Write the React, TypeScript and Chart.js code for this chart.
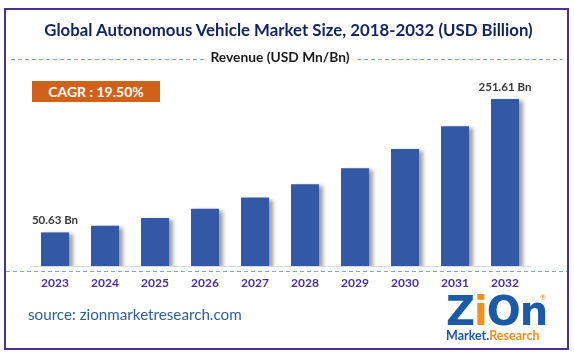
import React, { useEffect, useRef } from "react";
import { Chart, registerables } from "chart.js";

Chart.register(...registerables);

const years = ["2023", "2024", "2025", "2026", "2027", "2028", "2029", "2030", "2031", "2032"];
const revenue = [50.63, 60.5, 72.3, 86.4, 103.2, 123.4, 147.4, 176.2, 210.5, 251.61];
const labelled = [0, 9];
const titleText = "Global Autonomous Vehicle Market Size, 2018-2032 (USD Billion)";
const subtitleText = "Revenue (USD Mn/Bn)";
const cagrText = "CAGR : 19.50%";
const sourceText = "source: zionmarketresearch.com";

const FONT = "Lato, 'Noto Sans', sans-serif";

export default function App() {
  const ref = useRef<HTMLCanvasElement | null>(null);

  useEffect(() => {
    document.body.style.margin = "0";
    const canvas = ref.current;
    if (!canvas) return;

    const shadowPlugin = {
      id: "barShadow",
      beforeDatasetsDraw(chart: any) {
        const ctx = chart.ctx;
        ctx.save();
        ctx.shadowColor = "rgba(0,0,0,0.38)";
        ctx.shadowOffsetX = 4;
        ctx.shadowOffsetY = 2;
        ctx.shadowBlur = 4;
      },
      afterDatasetsDraw(chart: any) {
        chart.ctx.restore();
      },
    };

    const decoPlugin = {
      id: "deco",
      afterDraw(chart: any) {
        const ctx = chart.ctx;
        ctx.save();
        ctx.strokeStyle = "#7fa6db";
        ctx.lineWidth = 1;
        ctx.setLineDash([4, 3]);
        ctx.beginPath();
        ctx.moveTo(6, 271.5);
        ctx.lineTo(567, 271.5);
        ctx.stroke();
        ctx.beginPath();
        ctx.moveTo(11, 59.5);
        ctx.lineTo(204, 59.5);
        ctx.moveTo(357, 59.5);
        ctx.lineTo(563, 59.5);
        ctx.stroke();
        ctx.setLineDash([]);
        const meta = chart.getDatasetMeta(0);
        ctx.fillStyle = "#3a3a3a";
        ctx.font = `bold 11.5px ${FONT}`;
        ctx.textAlign = "center";
        ctx.textBaseline = "bottom";
        labelled.forEach((i) => {
          const el = meta.data[i];
          ctx.fillText(`${revenue[i].toFixed(2)} Bn`, el.x, el.y - 6);
        });
        ctx.restore();
      },
    };

    const chart = new Chart(canvas, {
      type: "bar",
      data: {
        labels: years,
        datasets: [
          {
            data: revenue,
            backgroundColor: "#3358a5",
            borderWidth: 0,
            categoryPercentage: 1,
            barPercentage: 0.56,
          },
        ],
      },
      options: {
        animation: false,
        responsive: false,
        maintainAspectRatio: false,
        devicePixelRatio: 1,
        layout: { padding: { left: 30, right: 44, top: 67, bottom: 61 } },
        plugins: { legend: { display: false }, tooltip: { enabled: false }, title: { display: false } },
        scales: {
          x: {
            grid: { display: false, drawTicks: false },
            border: { display: true, color: "#d9d9d9", width: 1 },
            ticks: {
              color: "#4a2f96",
              font: { family: FONT, weight: "bold", size: 12 },
              padding: 10,
            },
            afterFit: (scale: any) => {
              scale.height = 30;
            },
          },
          y: { display: false, min: 0, max: 300 },
        },
      },
      plugins: [shadowPlugin, decoPlugin],
    });
    return () => chart.destroy();
  }, []);

  return (
    <div style={{ position: "relative", width: 574, height: 357, background: "#fff", fontFamily: FONT, overflow: "hidden" }}>
      <canvas ref={ref} width={574} height={357} style={{ position: "absolute", left: 0, top: 0, width: 574, height: 357 }} />
      <div
        style={{
          position: "absolute",
          left: 4,
          top: 8,
          width: 565,
          height: 342,
          boxSizing: "border-box",
          border: "2px solid #4b3190",
        }}
      />
      <div
        style={{
          position: "absolute",
          left: 0,
          top: 19,
          width: 577,
          textAlign: "center",
          fontWeight: "bold",
          fontSize: 16.8,
          lineHeight: "21px",
          color: "#13235f",
          whiteSpace: "nowrap",
        }}
      >
        {titleText}
      </div>
      <div
        style={{
          position: "absolute",
          left: 205,
          top: 48,
          width: 150,
          textAlign: "center",
          fontSize: 13.8,
          fontWeight: "bold",
          lineHeight: "18px",
          color: "#1a1a1a",
          whiteSpace: "nowrap",
        }}
      >
        {subtitleText}
      </div>
      <div
        style={{
          position: "absolute",
          left: 32,
          top: 81,
          width: 128,
          height: 21,
          background: "#d0611b",
          color: "#fff",
          fontWeight: "bold",
          fontSize: 14,
          lineHeight: "21px",
          textAlign: "center",
        }}
      >
        {cagrText}
      </div>
      <div
        style={{
          position: "absolute",
          left: 28,
          top: 305,
          fontSize: 15.2,
          lineHeight: "19px",
          color: "#2e6096",
          whiteSpace: "nowrap",
        }}
      >
        {sourceText}
      </div>
      <div style={{ position: "absolute", left: 446, top: 290, width: 100, height: 56 }}>
        <div
          style={{
            position: "absolute",
            left: 0,
            top: 0,
            fontSize: 40,
            fontWeight: 900,
            lineHeight: "42px",
            letterSpacing: -1,
            color: "#1b5aa5",
            fontFamily: "'DejaVu Sans', sans-serif",
          }}
        >
          Z<span style={{ color: "#f0901e" }}>i</span>On
        </div>
        <div style={{ position: "absolute", right: 0, top: 3, fontSize: 7, color: "#f0901e" }}>®</div>
        <div
          style={{
            position: "absolute",
            left: 0,
            top: 39,
            fontSize: 12.5,
            fontWeight: "bold",
            lineHeight: "14px",
            whiteSpace: "nowrap",
            color: "#1b5aa5",
          }}
        >
          Market.<span style={{ color: "#f0901e" }}>Research</span>
        </div>
      </div>
    </div>
  );
}
